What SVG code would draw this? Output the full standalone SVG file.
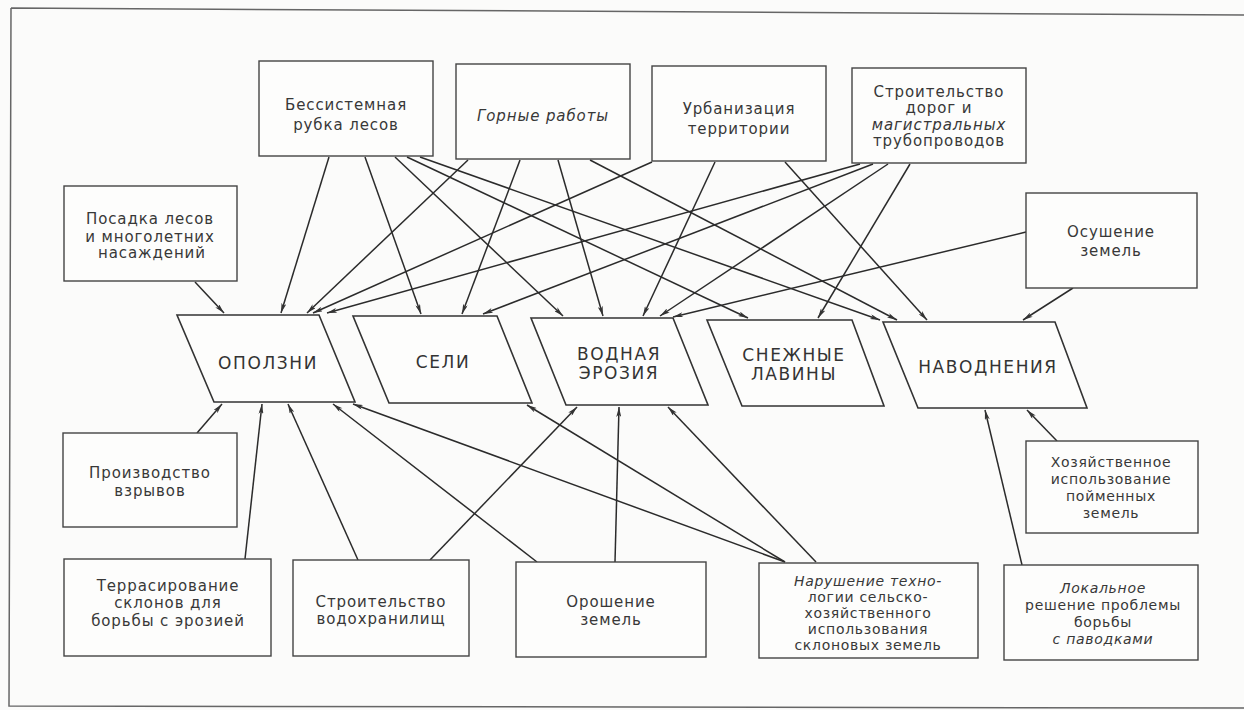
<svg xmlns="http://www.w3.org/2000/svg" width="1244" height="710" viewBox="0 0 1244 710">
<defs>
<marker id="ah" viewBox="0 0 12 6" refX="12" refY="3" markerWidth="12" markerHeight="5" markerUnits="userSpaceOnUse" orient="auto">
<path d="M0,0 L12,3 L0,6 L3,3 Z" fill="#333"/>
</marker>
<style>
.bg{fill:#fbfbfa}
.frame{fill:none;stroke:#666;stroke-width:1.5}
.box{fill:#fdfdfc;stroke:#444;stroke-width:1.4}
.haz{fill:#fdfdfc;stroke:#333;stroke-width:1.6}
.t{font-family:"DejaVu Sans",sans-serif;font-size:15px;fill:#383838;text-anchor:middle;letter-spacing:0.9px}
.s{font-size:14px;letter-spacing:0.7px}
.i{font-style:italic}
.h{font-family:"DejaVu Sans",sans-serif;font-size:17px;fill:#333;text-anchor:middle;letter-spacing:1.6px}
.c line{stroke:#2b2b2b;stroke-width:1.5;marker-end:url(#ah)}
</style>
</defs>
<rect class="bg" x="0" y="0" width="1244" height="710"/>
<path class="frame" d="M11,8 L1244,15 M11,8 L9,706 L1244,708"/>

<g class="c" id="connectors">
<line x1="329" y1="157" x2="281" y2="313"/>
<line x1="365" y1="157" x2="421" y2="314"/>
<line x1="395" y1="157" x2="563" y2="316"/>
<line x1="407" y1="157" x2="748" y2="318"/>
<line x1="420" y1="157" x2="880" y2="320"/>
<line x1="468" y1="160" x2="307" y2="313"/>
<line x1="520" y1="160" x2="462" y2="314"/>
<line x1="558" y1="160" x2="603" y2="316"/>
<line x1="590" y1="160" x2="897" y2="320"/>
<line x1="652" y1="162" x2="313" y2="313"/>
<line x1="715" y1="162" x2="643" y2="316"/>
<line x1="785" y1="162" x2="927" y2="320"/>
<line x1="860" y1="164" x2="327" y2="313"/>
<line x1="873" y1="164" x2="483" y2="314"/>
<line x1="888" y1="164" x2="660" y2="316"/>
<line x1="910" y1="164" x2="818" y2="318"/>
<line x1="1026" y1="232" x2="673" y2="317"/>
<line x1="1073" y1="288" x2="1023" y2="320"/>
<line x1="195" y1="282" x2="224" y2="313"/>
<line x1="197" y1="433" x2="222" y2="404"/>
<line x1="245" y1="559" x2="262" y2="404"/>
<line x1="358" y1="560" x2="288" y2="404"/>
<line x1="430" y1="560" x2="577" y2="407"/>
<line x1="537" y1="562" x2="333" y2="404"/>
<line x1="615" y1="562" x2="619" y2="407"/>
<line x1="785" y1="562" x2="353" y2="404"/>
<line x1="785" y1="562" x2="527" y2="405"/>
<line x1="816" y1="562" x2="668" y2="407"/>
<line x1="1022" y1="565" x2="985" y2="410"/>
<line x1="1057" y1="441" x2="1027" y2="410"/>
</g>

<g id="n-rubka"><rect class="box" x="259" y="61" width="174" height="95"/>
<text class="t" x="346" y="110">Бессистемная</text><text class="t" x="346" y="130">рубка лесов</text></g>
<g id="n-gornye"><rect class="box" x="456" y="64" width="174" height="95"/>
<text class="t i" x="543" y="121">Горные работы</text></g>
<g id="n-urban"><rect class="box" x="652" y="66" width="174" height="95"/>
<text class="t" x="739" y="114">Урбанизация</text><text class="t" x="739" y="134">территории</text></g>
<g id="n-dorogi"><rect class="box" x="852" y="68" width="174" height="95"/>
<text class="t" x="939" y="97">Строительство</text><text class="t" x="939" y="113">дорог и</text><text class="t i" x="939" y="130">магистральных</text><text class="t" x="939" y="146">трубопроводов</text></g>
<g id="n-osush"><rect class="box" x="1026" y="193" width="171" height="95"/>
<text class="t" x="1111" y="237">Осушение</text><text class="t" x="1111" y="256">земель</text></g>
<g id="n-posadka"><rect class="box" x="64" y="186" width="173" height="95"/>
<text class="t" x="150" y="224">Посадка лесов</text><text class="t" x="150" y="242">и многолетних</text><text class="t" x="152" y="258">насаждений</text></g>

<g id="h-opolzni"><polygon class="haz" points="177,315 319,315 355,402 214,402"/>
<text class="h" x="268" y="369">ОПОЛЗНИ</text></g>
<g id="h-seli"><polygon class="haz" points="353,316 497,316 532,403 389,403"/>
<text class="h" x="443" y="368">СЕЛИ</text></g>
<g id="h-eroz"><polygon class="haz" points="531,318 673,318 708,405 566,405"/>
<text class="h" x="619" y="360">ВОДНАЯ</text><text class="h" x="619" y="379">ЭРОЗИЯ</text></g>
<g id="h-lavin"><polygon class="haz" points="707,320 852,320 884,406 742,406"/>
<text class="h" x="794" y="361">СНЕЖНЫЕ</text><text class="h" x="794" y="380">ЛАВИНЫ</text></g>
<g id="h-navod"><polygon class="haz" points="883,322 1055,322 1087,408 918,408"/>
<text class="h" x="988" y="373">НАВОДНЕНИЯ</text></g>

<g id="n-vzryv"><rect class="box" x="63" y="433" width="174" height="94"/>
<text class="t" x="150" y="478">Производство</text><text class="t" x="150" y="496">взрывов</text></g>
<g id="n-terras"><rect class="box" x="64" y="559" width="207" height="97"/>
<text class="t" x="168" y="591">Террасирование</text><text class="t" x="168" y="608">склонов для</text><text class="t" x="168" y="626">борьбы с эрозией</text></g>
<g id="n-vodohr"><rect class="box" x="293" y="560" width="176" height="96"/>
<text class="t" x="381" y="607">Строительство</text><text class="t" x="381" y="624">водохранилищ</text></g>
<g id="n-orosh"><rect class="box" x="516" y="562" width="190" height="95"/>
<text class="t" x="611" y="607">Орошение</text><text class="t" x="611" y="625">земель</text></g>
<g id="n-narush"><rect class="box" x="759" y="563" width="219" height="95"/>
<text class="t s i" x="868" y="586">Нарушение техно-</text><text class="t s" x="868" y="602">логии сельско-</text><text class="t s" x="868" y="618">хозяйственного</text><text class="t s" x="868" y="634">использования</text><text class="t s" x="868" y="650">склоновых земель</text></g>
<g id="n-hoz"><rect class="box" x="1026" y="441" width="172" height="92"/>
<text class="t s" x="1111" y="467">Хозяйственное</text><text class="t s" x="1111" y="484">использование</text><text class="t s" x="1111" y="501">пойменных</text><text class="t s" x="1111" y="518">земель</text></g>
<g id="n-lokal"><rect class="box" x="1004" y="565" width="194" height="95"/>
<text class="t s i" x="1103" y="593">Локальное</text><text class="t s" x="1103" y="610">решение проблемы</text><text class="t s" x="1103" y="627">борьбы</text><text class="t s i" x="1103" y="644">с паводками</text></g>
</svg>
